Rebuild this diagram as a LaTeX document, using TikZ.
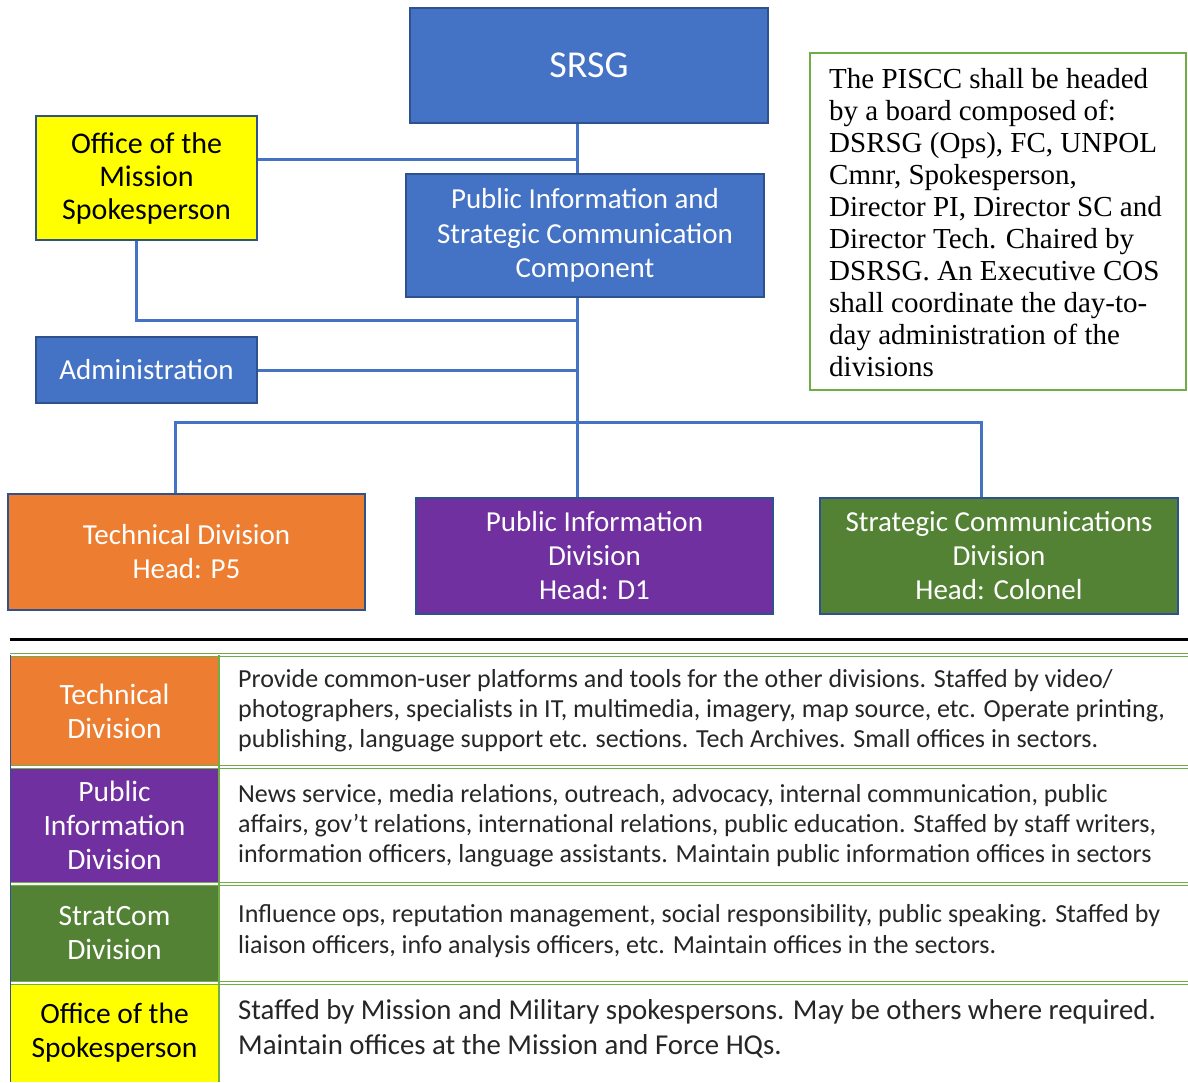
\documentclass[tikz,border=0pt]{standalone}
\usepackage{fontspec}
\setmainfont{Carlito}
\newfontfamily\piscfont{Liberation Serif}
\definecolor{cBlue}{HTML}{4472C4}
\definecolor{cBord}{HTML}{2F528F}
\definecolor{cOrange}{HTML}{ED7D31}
\definecolor{cPurple}{HTML}{7030A0}
\definecolor{cGreen}{HTML}{548235}
\definecolor{cLGreen}{HTML}{70AD47}
\definecolor{cYellow}{HTML}{FFFF00}
\definecolor{cText}{HTML}{262626}
\tikzset{
  orgbox/.style={draw=cBord, line width=1.5pt, align=center, inner sep=0pt, text=white},
  conn/.style={draw=cBlue, line width=3pt},
  lcell/.style={align=center, inner sep=0pt, minimum width=209pt, text=white,
     font=\fontsize{29.5}{34}\selectfont},
  rtext/.style={anchor=west, align=left, inner sep=0pt, text=cText},
  gline/.style={draw=cLGreen, double=white, double distance=1.5pt, line width=1.2pt},
}
\begin{document}
\begin{tikzpicture}[x=1pt,y=-1pt]
\useasboundingbox (0,0) rectangle (1188,1082);
\fill[white] (0,0) rectangle (1188,1082);

% org chart boxes
\node[orgbox, fill=cBlue, minimum width=358pt, minimum height=115pt,
      font=\fontsize{38}{44}\selectfont] (SRSG) at (589,65.5) {SRSG};
\node[orgbox, fill=cYellow, text=black, minimum width=221pt, minimum height=124pt,
      font=\fontsize{30}{33}\selectfont] (Office) at (146.5,178) {Office of the\\Mission\\Spokesperson};
\node[orgbox, fill=cBlue, minimum width=358pt, minimum height=123pt,
      font=\fontsize{29}{34.5}\selectfont] (PIC) at (585,235.5) {Public Information and\\Strategic Communication\\Component};
\node[orgbox, fill=cBlue, minimum width=221pt, minimum height=66pt,
      font=\fontsize{29}{34}\selectfont] (Admin) at (146.5,370) {Administration};
\node[draw=cLGreen, line width=1.5pt, minimum width=376pt, minimum height=337pt, inner sep=0pt] (PISCC) at (998,221.5) {};
\node[anchor=north west, align=left, inner sep=0pt, text=black,
      font=\piscfont\fontsize{29}{32}\selectfont] (PISCCtext) at (829,68)
  {The PISCC shall be headed\\by a board composed of:\\DSRSG (Ops), FC, UNPOL\\Cmnr, Spokesperson,\\Director PI, Director SC and\\Director Tech. Chaired by\\DSRSG. An Executive COS\\shall coordinate the day-to-\\day administration of the\\divisions};

\node[orgbox, fill=cOrange, minimum width=357pt, minimum height=116pt,
      font=\fontsize{29}{34}\selectfont] (Tech) at (186.5,552) {Technical Division\\Head: P5};
\node[orgbox, fill=cPurple, minimum width=357pt, minimum height=116pt,
      font=\fontsize{29}{34}\selectfont] (PID) at (594.5,556) {Public Information\\Division\\Head: D1};
\node[orgbox, fill=cGreen, minimum width=358pt, minimum height=116pt,
      font=\fontsize{29}{34}\selectfont] (SCD) at (999,556) {Strategic Communications\\Division\\Head: Colonel};

% connectors
\coordinate (tx) at (577,0);
\coordinate (j1) at (577,159);
\coordinate (j2) at (577,320);
\coordinate (bus) at (577,422);
\draw[conn] (SRSG.south -| tx) -- (PIC.north -| tx);
\draw[conn] (Office.east |- j1) -- (j1);
\draw[conn] ([xshift=-10.5pt]Office.south) |- (j2);
\draw[conn] (PIC.south -| tx) -- (PID.north -| tx);
\draw[conn] (Admin.east) -- (Admin.east -| tx);
\draw[conn] ([xshift=-11.5pt]Tech.north) |- (bus) -| ([xshift=-18pt]SCD.north);

% separator
\draw[line width=3pt, black] (10,639) -- (1188,639);

% table
\node[lcell, fill=cOrange, minimum height=112pt] (L1) at (114.5,711) {Technical\\Division};
\node[lcell, fill=cPurple, minimum height=117pt] (L2) at (114.5,825.5) {Public\\Information\\Division};
\node[lcell, fill=cGreen, minimum height=99pt] (L3) at (114.5,933.5) {StratCom\\Division};
\node[lcell, fill=cYellow, text=black, minimum height=99pt] (L4) at (114.5,1032.5) {Office of the\\Spokesperson};

\node[rtext, font=\fontsize{26}{30}\selectfont] (R1) at (238,711)
  {Provide common-user platforms and tools for the other divisions. Staffed by video/\\photographers, specialists in IT, multimedia, imagery, map source, etc. Operate printing,\\publishing, language support etc. sections. Tech Archives. Small offices in sectors.};
\node[rtext, font=\fontsize{26}{30}\selectfont] (R2) at (238,825.5)
  {News service, media relations, outreach, advocacy, internal communication, public\\affairs, gov’t relations, international relations, public education. Staffed by staff writers,\\information officers, language assistants. Maintain public information offices in sectors};
\node[rtext, font=\fontsize{26}{31}\selectfont] (R3) at (238,931)
  {Influence ops, reputation management, social responsibility, public speaking. Staffed by\\liaison officers, info analysis officers, etc. Maintain offices in the sectors.};
\node[rtext, font=\fontsize{28.8}{35}\selectfont] (R4) at (238,1028.5)
  {Staffed by Mission and Military spokespersons. May be others where required.\\Maintain offices at the Mission and Force HQs.};

\draw[gline] (10,655) -- (1188,655);
\draw[gline] (10,767) -- (1188,767);
\draw[gline] (10,884) -- (1188,884);
\draw[gline] (10,983) -- (1188,983);
\draw[draw=cLGreen, line width=1.5pt] (219,655) -- (219,1082);
\draw[draw=cBord, line width=1pt] (10,655) -- (10,1082);
\end{tikzpicture}
\end{document}
